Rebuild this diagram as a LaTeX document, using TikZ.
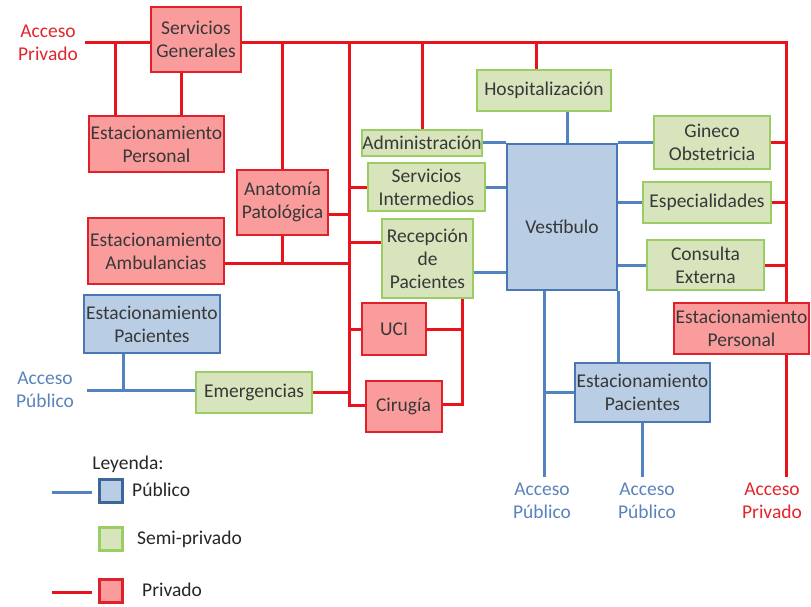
\documentclass[tikz,border=0pt]{standalone}
\usepackage{fontspec}
\setmainfont{Carlito}
\definecolor{privfill}{HTML}{FA9C9C}
\definecolor{privdraw}{HTML}{E0202A}
\definecolor{lred}{HTML}{E8141C}
\definecolor{semifill}{HTML}{D7E4BC}
\definecolor{semidraw}{HTML}{9ACD63}
\definecolor{pubfill}{HTML}{B9CDE5}
\definecolor{pubdraw}{HTML}{4A78B5}
\definecolor{lblue}{HTML}{5283C0}
\definecolor{txt}{HTML}{383838}
\definecolor{acpub}{HTML}{5A83BC}
\definecolor{acpriv}{HTML}{E2252B}
\newcommand\boxfont{\fontsize{19.5}{23}\selectfont}
\begin{document}
\begin{tikzpicture}[x=1pt,y=-1pt,
  box/.style={draw, line width=2pt, inner sep=0pt, align=center, text=txt, font=\boxfont, anchor=center},
  priv/.style={fill=privfill, draw=privdraw},
  semi/.style={fill=semifill, draw=semidraw},
  pub/.style={fill=pubfill, draw=pubdraw},
  redl/.style={draw=lred, line width=3pt},
  bluel/.style={draw=lblue, line width=3pt},
  acc/.style={align=center, font=\boxfont, inner sep=0pt},
  legtext/.style={anchor=west, font=\boxfont, text=black!85, inner sep=0pt}]
\useasboundingbox (0,0) rectangle (811,607);

% boxes
\node[box,priv,minimum width=90pt,minimum height=65pt] (sg) at (196,39.5) {Servicios\\Generales};
\node[box,priv,minimum width=135pt,minimum height=56pt] (epl) at (156.5,144) {Estacionamiento\\Personal};
\node[box,priv,minimum width=91pt,minimum height=65pt] (ap) at (282.5,202.5) {Anatomía\\Patológica};
\node[box,priv,minimum width=136pt,minimum height=66pt] (ea) at (156,251) {Estacionamiento\\Ambulancias};
\node[box,pub,minimum width=136pt,minimum height=58pt] (epa) at (152,324) {Estacionamiento\\Pacientes};
\node[box,semi,minimum width=116pt,minimum height=41pt] (em) at (254,392.5) {Emergencias};
\node[box,priv,minimum width=64pt,minimum height=52pt] (uci) at (394,329) {UCI};
\node[box,priv,minimum width=76pt,minimum height=51pt] (cir) at (403.5,406.5) {Cirugía};
\node[box,semi,minimum width=120pt,minimum height=26pt] (adm) at (422,143) {Administración};
\node[box,semi,minimum width=117pt,minimum height=48pt] (si) at (426.5,187) {Servicios\\Intermedios};
\node[box,semi,minimum width=91pt,minimum height=79pt] (rp) at (427.5,258.5) {Recepción\\de\\Pacientes};
\node[box,semi,minimum width=134pt,minimum height=41pt] (hos) at (544,90.5) {Hospitalización};
\node[box,pub,minimum width=110pt,minimum height=146pt,
      label={[font=\boxfont,text=txt,inner sep=0pt,yshift=-10pt]center:Vestíbulo}] (ves) at (562,217) {};
\node[box,semi,minimum width=116pt,minimum height=53pt] (gin) at (712,142.5) {Gineco\\Obstetricia};
\node[box,semi,minimum width=128pt,minimum height=41pt] (esp) at (707,202.5) {Especialidades};
\node[box,semi,minimum width=117pt,minimum height=50pt] (ce) at (705.5,265) {Consulta\\Externa};
\node[box,priv,minimum width=135pt,minimum height=51pt] (epr) at (741.5,328.5) {Estacionamiento\\Personal};
\node[box,pub,minimum width=135pt,minimum height=59pt] (epb) at (642.5,392.5) {Estacionamiento\\Pacientes};

% access labels
\node[acc,text=acpriv] (apr1) at (48,42.5) {Acceso\\Privado};
\node[acc,text=acpub] (apu1) at (45,389.5) {Acceso\\Público};
\node[acc,text=acpub] (apu2) at (542,500.5) {Acceso\\Público};
\node[acc,text=acpub] (apu3) at (647,500.5) {Acceso\\Público};
\node[acc,text=acpriv] (apr2) at (772,500.5) {Acceso\\Privado};

% coordinates
\coordinate (tl) at (85,43);
\coordinate (tr) at (786,43);
\coordinate (br) at (786,477);
\coordinate (j1) at (115,43);
\coordinate (t1) at (349,43);
\coordinate (t2) at (349,405);
\coordinate (sgb) at ([xshift=-15pt]sg.south);
\coordinate (ape) at ([yshift=-12pt]ap.east);
\coordinate (rpw) at ([yshift=16pt]rp.west);
\coordinate (amb) at ([yshift=-12pt]ea.east);
\coordinate (rl) at ([xshift=34.5pt]rp.south);
\coordinate (cire) at ([yshift=2pt]cir.east);
\coordinate (h1) at ([xshift=-8pt]hos.north);
\coordinate (h2) at ([xshift=23pt]hos.south);
\coordinate (rpe) at ([yshift=-13.5pt]rp.east);
\coordinate (v1) at ([xshift=-18pt]ves.south);
\coordinate (ba1) at (544,477);
\coordinate (la) at (87,390);
\coordinate (e1) at ([xshift=-29pt]epa.south);

% red connectors
\draw[redl] (tl) -- (tl -| sg.west);
\draw[redl] (tl -| sg.east) -- (tr) -- (tr |- epr.north);
\draw[redl] (tr |- epr.south) -- (br);
\draw[redl] (j1) -- (j1 |- epl.north);
\draw[redl] (sgb) -- (sgb |- epl.north);
\draw[redl] (tl -| ap.north) -- (ap.north);
\draw[redl] (t1) -- (t2) -- (t2 -| cir.west);
\draw[redl] (t1 |- si.west) -- (si.west);
\draw[redl] (ape) -- (ape -| t1);
\draw[redl] (rpw -| t1) -- (rpw);
\draw[redl] (amb) -- (amb -| t1);
\draw[redl] (ap.south) -- (ap.south |- amb);
\draw[redl] (t1 |- uci.west) -- (uci.west);
\draw[redl] (em.east) -- (em.east -| t1);
\draw[redl] (uci.east) -- (uci.east -| rl);
\draw[redl] (rl) -- (rl |- cire) -- (cire);
\draw[redl] (tl -| adm.north) -- (adm.north);
\draw[redl] (h1 |- tl) -- (h1);
\draw[redl] (gin.east) -- (gin.east -| tr);
\draw[redl] (esp.east) -- (esp.east -| tr);
\draw[redl] (ce.east) -- (ce.east -| tr);

% blue connectors
\draw[bluel] (adm.east) -- (adm.east -| ves.west);
\draw[bluel] (ves.north east) -- (ves.north east -| gin.west);
\draw[bluel] (h2) -- (h2 |- ves.north);
\draw[bluel] (si.east) -- (si.east -| ves.west);
\draw[bluel] (rpe) -- (rpe -| ves.west);
\draw[bluel] (esp.west -| ves.east) -- (esp.west);
\draw[bluel] (ce.west -| ves.east) -- (ce.west);
\draw[bluel] (v1) -- (ba1);
\draw[bluel] (ba1 |- epb.west) -- (epb.west);
\draw[bluel] (ves.south east) -- (ves.south east |- epb.north);
\draw[bluel] (epb.south) -- (epb.south |- ba1);
\draw[bluel] (la) -- (la -| em.west);
\draw[bluel] (e1) -- (e1 |- la);

% legend
\node[font=\boxfont, text=black!85, inner sep=0pt] (ley) at (128,464) {Leyenda:};
\node[draw=pubdraw!85!black, fill=pubfill, line width=2.4pt, minimum size=23pt, inner sep=0pt] (lpub) at (111,491) {};
\node[legtext] (tpub) at (132,490) {Público};
\node[draw=semidraw, fill=semifill, line width=2.4pt, minimum size=23pt, inner sep=0pt] (lsemi) at (111,539) {};
\node[legtext] (tsemi) at (137,539.5) {Semi-privado};
\node[draw=privdraw, fill=privfill, line width=2.4pt, minimum size=23pt, inner sep=0pt] (lpriv) at (111,591) {};
\node[legtext] (tpriv) at (142,590) {Privado};
\coordinate (lb1) at (52,492);
\coordinate (lb2) at (92,492);
\coordinate (lr1) at (52,592);
\coordinate (lr2) at (92,592);
\draw[bluel] (lb1) -- (lb2);
\draw[redl] (lr1) -- (lr2);
\end{tikzpicture}
\end{document}
